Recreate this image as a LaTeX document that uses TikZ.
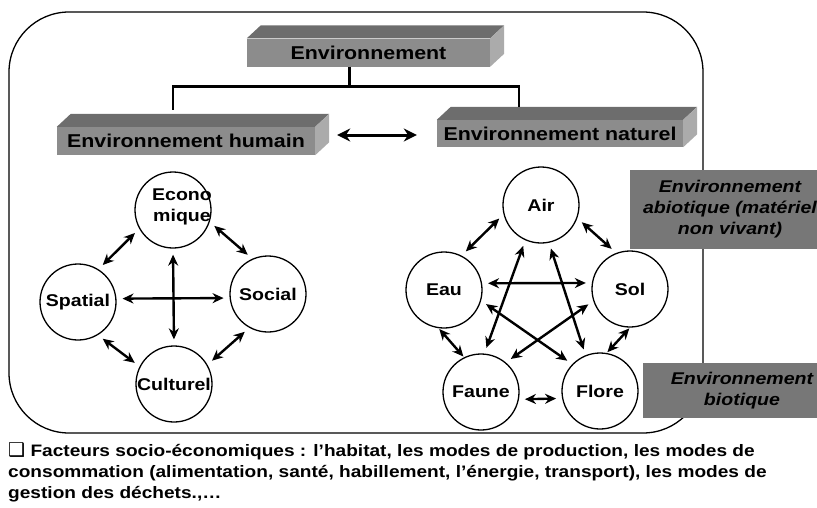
\documentclass[tikz,border=0pt]{standalone}
\usepackage{fontspec}
\setmainfont{Liberation Sans}[FakeStretch=1.15]
\newfontfamily\symfont{DejaVu Sans}
\usetikzlibrary{arrows.meta,positioning}

\definecolor{slabfront}{HTML}{8C8C8C}
\definecolor{slabtop}{HTML}{6D6D6D}
\definecolor{slabside}{HTML}{ABABAB}
\definecolor{tagfill}{HTML}{777777}

% top and side faces of a grey slab
\newcommand{\slab}[1]{%
  \fill[slabtop] (#1.north west) -- ++(14,-13) -- ([shift={(14,-13)}]#1.north east) -- (#1.north east) -- cycle;
  \fill[slabside] (#1.north east) -- ++(14,-13) -- ([shift={(14,-13)}]#1.south east) -- (#1.south east) -- cycle;}

\tikzset{
  slabbox/.style={fill=slabfront, minimum height=28pt, inner sep=0pt, font=\bfseries\fontsize{18.6}{21}\selectfont},
  tagbox/.style={fill=tagfill, inner sep=0pt, align=center, font=\bfseries\itshape\fontsize{17}{21}\selectfont},
  circ/.style={circle, draw, line width=1.3pt, minimum size=76pt, inner sep=0pt, font=\bfseries\fontsize{17}{19}\selectfont},
  link/.style={{Stealth[length=11pt,width=10pt]}-{Stealth[length=11pt,width=10pt]}, line width=2.4pt, shorten <=6pt, shorten >=6pt},
  tight/.style={shorten <=1pt, shorten >=1pt},
  tree/.style={line width=2.6pt},
  frame/.style={draw, line width=1.3pt, rounded corners=60pt}
}

\begin{document}
\begin{tikzpicture}[x=1pt,y=-1pt]
\useasboundingbox (0,0) rectangle (817,507);

% rounded frame
\draw[frame] (9,12) rectangle (703,433);

% slabs
\node[slabbox, minimum width=243pt] (envtop) at (368.5,52.5) {Environnement};
\slab{envtop}
\node[slabbox, minimum width=258pt] (hum) at (186,141) {Environnement humain};
\slab{hum}
\node[slabbox, minimum width=246pt, minimum height=27pt] (nat) at (560,133.5) {Environnement naturel};
\slab{nat}

\draw[tree] ([xshift=-19pt]envtop.south) -- ++(0,20) coordinate (fork);
\draw[tree] (fork) -| ([xshift=-13pt,yshift=17pt]hum.north);
\draw[tree] (fork) -| ([xshift=-41pt,yshift=13pt]nat.north);
\draw[{Stealth[length=13pt,width=13pt]}-{Stealth[length=13pt,width=13pt]}, line width=3pt]
  ([xshift=22pt,yshift=6pt]hum.east) -- ([xshift=-20pt,yshift=-1.5pt]nat.west);

% side tags
\node[tagbox, minimum width=200pt, minimum height=79pt] (abio) at (730,209.5) {Environnement\\abiotique (matériel\\non vivant)};
\node[tagbox, minimum width=198pt, minimum height=55pt] (bio) at (742,390.5) {Environnement\\biotique};

% human side
\node[circ] (eco) at (173,210) {};
\node[align=center, font=\bfseries\fontsize{17}{21}\selectfont] (ecotxt) at (182,207) {Econo\\mique};
\node[circ] (spa) at (78,302) {Spatial};
\node[circ] (soc) at (268,294) {Social};
\node[circ] (cul) at (174,384) {Culturel};

\draw[link] (eco.209) -- (spa.58);
\draw[link] (eco.342) -- (soc.114);
\draw[link] (spa.301) -- (cul.153);
\draw[link] (soc.241) -- (cul.30);
\draw[link] (spa.5) -- (soc.186);
\draw[link] (eco.south) -- (cul.north);

% natural side
\node[circ] (air) at (541,205) {Air};
\node[circ] (eau) at (444,290) {Eau};
\node[circ] (sol) at (630,289) {Sol};
\node[circ] (faune) at (481,392) {Faune};
\node[circ] (flore) at (600,391) {Flore};

\draw[link] (air.194) -- (eau.63);
\draw[link] (air.340) -- (sol.111);
\draw[link] (eau.10) -- (sol.171);
\draw[link, tight] (eau.262) -- (faune.116);
\draw[link, tight] (sol.270) -- (flore.80);
\draw[link] (faune.349) -- (flore.191);
\draw[link] (air.246) -- (faune.85);
\draw[link] (air.282) -- (flore.112);
\draw[link] (eau.344) -- (flore.136);
\draw[link] (sol.198) -- (faune.50);

% note below
\node[anchor=north west, align=left, inner sep=0pt, font=\bfseries\fontsize{16.6}{21}\selectfont] (note) at (8,442)
  {{\symfont\fontsize{19}{21}\selectfont ❑} Facteurs socio-économiques : l’habitat, les modes de production, les modes de\\
   consommation (alimentation, santé, habillement, l’énergie, transport), les modes de\\
   gestion des déchets.,…};
\end{tikzpicture}
\end{document}
